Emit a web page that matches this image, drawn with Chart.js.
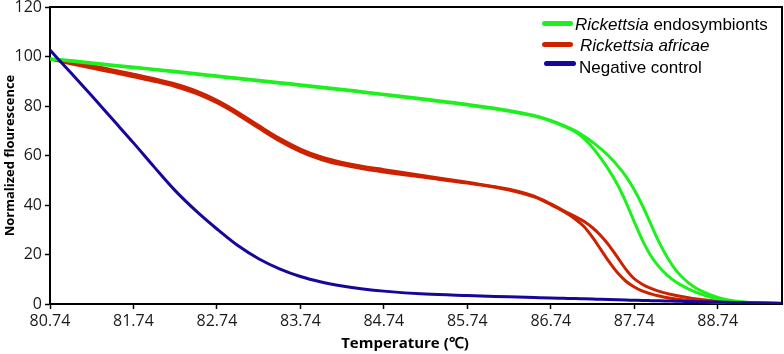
<!DOCTYPE html>
<html>
<head>
<meta charset="utf-8">
<script src="https://cdn.jsdelivr.net/npm/chart.js@4.4.1/dist/chart.umd.min.js"></script>
<style>
  html, body { margin: 0; padding: 0; background: #ffffff; }
  #wrap { position: relative; width: 784px; height: 354px; }
  #c { position: absolute; left: 0; top: 0; }
  .lg-line { position: absolute; height: 5px; border-radius: 3px; }
  .lg-text { position: absolute; font-family: "Liberation Sans", Arial, sans-serif; font-size: 17px; line-height: 17px; color: #000; white-space: nowrap; }
  #xtitle { position: absolute; left: 305px; width: 200px; top: 332px; text-align: center; font-family: "Open Sans", sans-serif; font-weight: bold; font-size: 15px; line-height: 20px; color: #000; white-space: nowrap; }
</style>
</head>
<body>
<div id="wrap">
  <canvas id="c" width="784" height="354"></canvas>
  <div class="lg-line" style="left:542px; top:21px; width:31px; background:#1ef01e;"></div>
  <div class="lg-text" style="left:575px; top:16px;"><i>Rickettsia</i> endosymbionts</div>
  <div class="lg-line" style="left:542px; top:42px; width:31px; background:#cc2200;"></div>
  <div class="lg-text" style="left:580px; top:37px;"><i>Rickettsia africae</i></div>
  <div class="lg-line" style="left:544px; top:61px; width:32px; background:#16079a;"></div>
  <div class="lg-text" style="left:579px; top:59px;">Negative control</div>
  <div id="xtitle">Temperature (℃)</div>
</div>
<script>
// ---- data ----
const temperatures = [80.74, 80.99, 81.24, 81.49, 81.74, 81.99, 82.24, 82.49, 82.74, 82.99, 83.24, 83.49, 83.74, 83.99, 84.24, 84.49, 84.74, 85.24, 85.74, 86.24, 86.54, 86.74, 86.89,
  87.04, 87.14, 87.24, 87.34, 87.44, 87.54, 87.64, 87.74, 87.84, 87.94, 88.04, 88.14, 88.24, 88.34, 88.44, 88.54,
  88.74, 88.94, 89.14, 89.51];

const endosymbiontsA = [99.0, 98.1, 97.2, 96.3, 95.5, 94.6, 93.7, 92.8, 91.9, 91.0, 90.1, 89.2, 88.3, 87.4, 86.5, 85.5, 84.5, 82.5, 80.4, 77.9, 75.9, 73.9, 71.9,
  69.4, 66.8, 63.2, 58.8, 53.9, 48.2, 41.2, 33.2, 25.6, 19.4, 14.9, 11.5, 8.9, 6.9, 5.3, 4.0,
  2.0, 1.0, 0.5, 0.1];
const endosymbiontsB = [99.0, 98.4, 97.5, 96.6, 95.8, 94.9, 94.0, 93.1, 92.2, 91.3, 90.4, 89.5, 88.6, 87.7, 86.8, 85.8, 84.8, 82.8, 80.7, 78.2, 76.2, 74.2, 72.2,
  69.9, 67.8, 65.4, 62.7, 59.6, 55.9, 51.6, 46.2, 39.6, 32.2, 24.8, 18.6, 13.6, 10.0, 7.3, 5.3,
  2.7, 1.2, 0.6, 0.15];

const africaeA = [99.0, 97.1, 95.3, 93.6, 91.8, 90.0, 87.9, 85.1, 81.3, 76.5, 71.1, 65.9, 61.6, 58.4, 56.2, 54.6, 53.3, 51.1, 48.85, 46.05, 43.25, 40.15, 37.45,
  34.1, 31.2, 26.9, 22.0, 17.0, 12.6, 9.2, 6.9, 5.2, 4.1, 3.2, 2.5, 2.0, 1.6, 1.3, 1.0,
  0.6, 0.35, 0.2, 0.1];
const africaeB = [99.0, 97.7, 96.3, 94.6, 92.8, 91.0, 88.9, 86.1, 82.3, 77.5, 72.1, 66.9, 62.6, 59.4, 57.2, 55.6, 54.3, 51.7, 49.15, 46.35, 43.55, 40.45, 37.75,
  35.2, 33.3, 30.8, 27.6, 23.6, 18.8, 14.0, 10.2, 7.9, 6.3, 5.1, 4.2, 3.45, 2.8, 2.25, 1.8,
  1.1, 0.65, 0.4, 0.1];

const negativeControl = [102.6, 93.4, 84.1, 74.6, 65.1, 55.3, 45.8, 37.6, 30.3, 23.6, 18.3, 14.2, 11.1, 8.9, 7.3, 6.1, 5.2, 4.0, 3.4, 2.9, 2.6, 2.4, 2.3,
  2.2, 2.1, 2.0, 1.9, 1.8, 1.7, 1.6, 1.5, 1.4, 1.35, 1.3, 1.2, 1.1, 1.05, 1.0, 0.9,
  0.8, 0.6, 0.5, 0.3];

const xTickLabels = [80.74, 81.74, 82.74, 83.74, 84.74, 85.74, 86.74, 87.74, 88.74];
const yTickValues = [0, 20, 40, 60, 80, 100, 120];

// ---- helpers ----
const toPoints = (vals) => temperatures.map((t, i) => ({ x: t, y: vals[i] }));
const GREEN = '#1ef01e', RED = '#cc2200', BLUE = '#16079a';

const frame = {
  id: 'frame',
  afterDraw(chart) {
    const { ctx, chartArea: a } = chart;
    ctx.save();
    ctx.strokeStyle = '#000';
    ctx.lineWidth = 2;
    ctx.beginPath();
    ctx.moveTo(a.left, a.top);
    ctx.lineTo(a.right, a.top);
    ctx.lineTo(a.right, a.bottom);
    ctx.stroke();
    ctx.restore();
  }
};

const ds = (vals, color) => ({
  data: toPoints(vals),
  borderColor: color,
  backgroundColor: color,
  borderWidth: 3,
  pointRadius: 0,
  cubicInterpolationMode: 'monotone',
  fill: false
});

new Chart(document.getElementById('c'), {
  type: 'line',
  data: {
    datasets: [
      ds(negativeControl, BLUE),
      ds(endosymbiontsA, GREEN),
      ds(endosymbiontsB, GREEN),
      ds(africaeA, RED),
      ds(africaeB, RED)
    ]
  },
  options: {
    responsive: false,
    animation: false,
    layout: { padding: { top: 7, right: 2, left: 0, bottom: 0 } },
    plugins: { legend: { display: false }, tooltip: { enabled: false } },
    scales: {
      x: {
        type: 'linear',
        min: 80.74,
        max: 89.51,
        afterBuildTicks: (s) => { s.ticks = xTickLabels.map(v => ({ value: v })); },
        afterFit: (s) => { s.height = 50; s.paddingLeft = 0; s.paddingRight = 0; },
        ticks: {
          font: { family: 'Open Sans', size: 16 },
          color: '#1a1a1a',
          padding: 3,
          maxRotation: 0,
          autoSkip: false,
          callback: (v) => v.toFixed(2)
        },
        grid: { display: true, drawOnChartArea: false, drawTicks: true, tickLength: 5, color: '#000', tickWidth: 1.5 },
        border: { display: true, color: '#000', width: 2 },
        title: { display: false }
      },
      y: {
        min: 0,
        max: 120,
        afterBuildTicks: (s) => { s.ticks = yTickValues.map(v => ({ value: v })); },
        afterFit: (s) => { s.width = 50; s.paddingTop = 0; s.paddingBottom = 0; },
        ticks: {
          font: { family: 'Open Sans', size: 16 },
          color: '#1a1a1a',
          padding: 3
        },
        grid: { display: true, drawOnChartArea: false, drawTicks: true, tickLength: 5, color: '#000', tickWidth: 1.5 },
        border: { display: true, color: '#000', width: 2 },
        title: {
          display: true,
          text: 'Normalized flourescence',
          font: { family: 'Open Sans', size: 13, weight: 'bold' },
          color: '#000',
          padding: { top: 2, bottom: 0 }
        }
      }
    }
  },
  plugins: [frame]
});
</script>
</body>
</html>
